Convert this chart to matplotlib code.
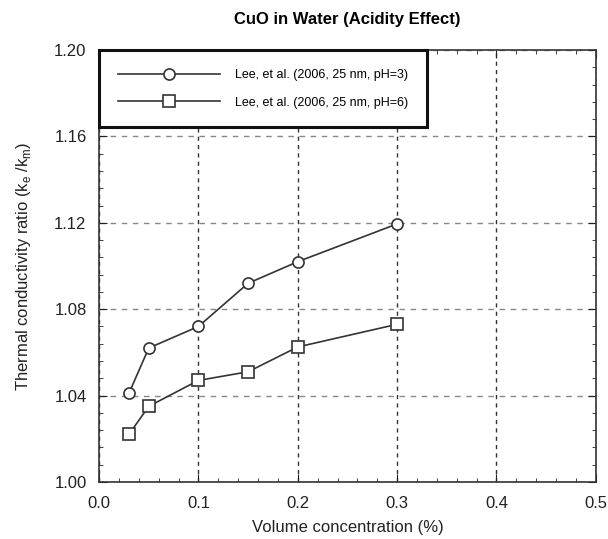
import matplotlib
matplotlib.use("Agg")
import matplotlib.pyplot as plt
from matplotlib.ticker import MultipleLocator

plt.rcParams['font.family'] = ['Liberation Sans', 'DejaVu Sans']

x_ph3 = [0.03, 0.05, 0.10, 0.15, 0.20, 0.30]
y_ph3 = [1.041, 1.062, 1.072, 1.092, 1.102, 1.1195]
x_ph6 = [0.03, 0.05, 0.10, 0.15, 0.20, 0.30]
y_ph6 = [1.022, 1.035, 1.047, 1.051, 1.0625, 1.073]
labels = ["Lee, et al. (2006, 25 nm, pH=3)", "Lee, et al. (2006, 25 nm, pH=6)"]

fig = plt.figure(figsize=(6.08, 5.39), dpi=100)
ax = fig.add_axes([0.163, 0.106, 0.817, 0.801])

ax.plot(x_ph3, y_ph3, color='#333333', lw=1.2, marker='o', ms=8, mfc='white', mec='#333333', mew=1.2, label=labels[0])
ax.plot(x_ph6, y_ph6, color='#333333', lw=1.2, marker='s', ms=8, mfc='white', mec='#333333', mew=1.2, label=labels[1])

ax.set_xlim(0, 0.5)
ax.set_ylim(1.00, 1.20)
ax.xaxis.set_major_locator(MultipleLocator(0.1))
ax.xaxis.set_minor_locator(MultipleLocator(0.02))
ax.yaxis.set_major_locator(MultipleLocator(0.04))
ax.yaxis.set_minor_locator(MultipleLocator(0.008))
ax.xaxis.set_major_formatter(matplotlib.ticker.FormatStrFormatter('%.1f'))
ax.yaxis.set_major_formatter(matplotlib.ticker.FormatStrFormatter('%.2f'))
ax.tick_params(which='both', direction='in', top=True, right=True, labelsize=12, colors='#222222')
ax.tick_params(which='major', length=6)
ax.tick_params(which='minor', length=3)
ax.tick_params(axis='x', which='major', pad=10)
ax.tick_params(axis='y', which='major', pad=9)
for s in ax.spines.values():
    s.set_linewidth(1.2)
    s.set_color('#333333')

ax.grid(True, axis='y', which='major', linestyle=(0, (4, 4)), color='#888888', lw=1.0)
ax.grid(True, axis='x', which='major', linestyle=(0, (3, 3)), color='#333333', lw=1.0)

ax.set_xlabel("Volume concentration (%)", fontsize=12, color='#222222', labelpad=7)
ax.set_ylabel(r"Thermal conductivity ratio (k$_\mathregular{e}$ /k$_\mathregular{m}$)", fontsize=12, color='#222222', labelpad=15)
ax.set_title("CuO in Water (Acidity Effect)", fontsize=12, fontweight='bold', pad=19)

leg = ax.legend(loc='upper left', bbox_to_anchor=(0.0, 1.0), borderaxespad=0.0, fancybox=False,
                framealpha=1, edgecolor='#111111', fontsize=9, handlelength=8.2,
                borderpad=1.5, labelspacing=1.25, handletextpad=1.2)
leg.get_frame().set_linewidth(2.2)

fig.savefig("out.png", dpi=100)
